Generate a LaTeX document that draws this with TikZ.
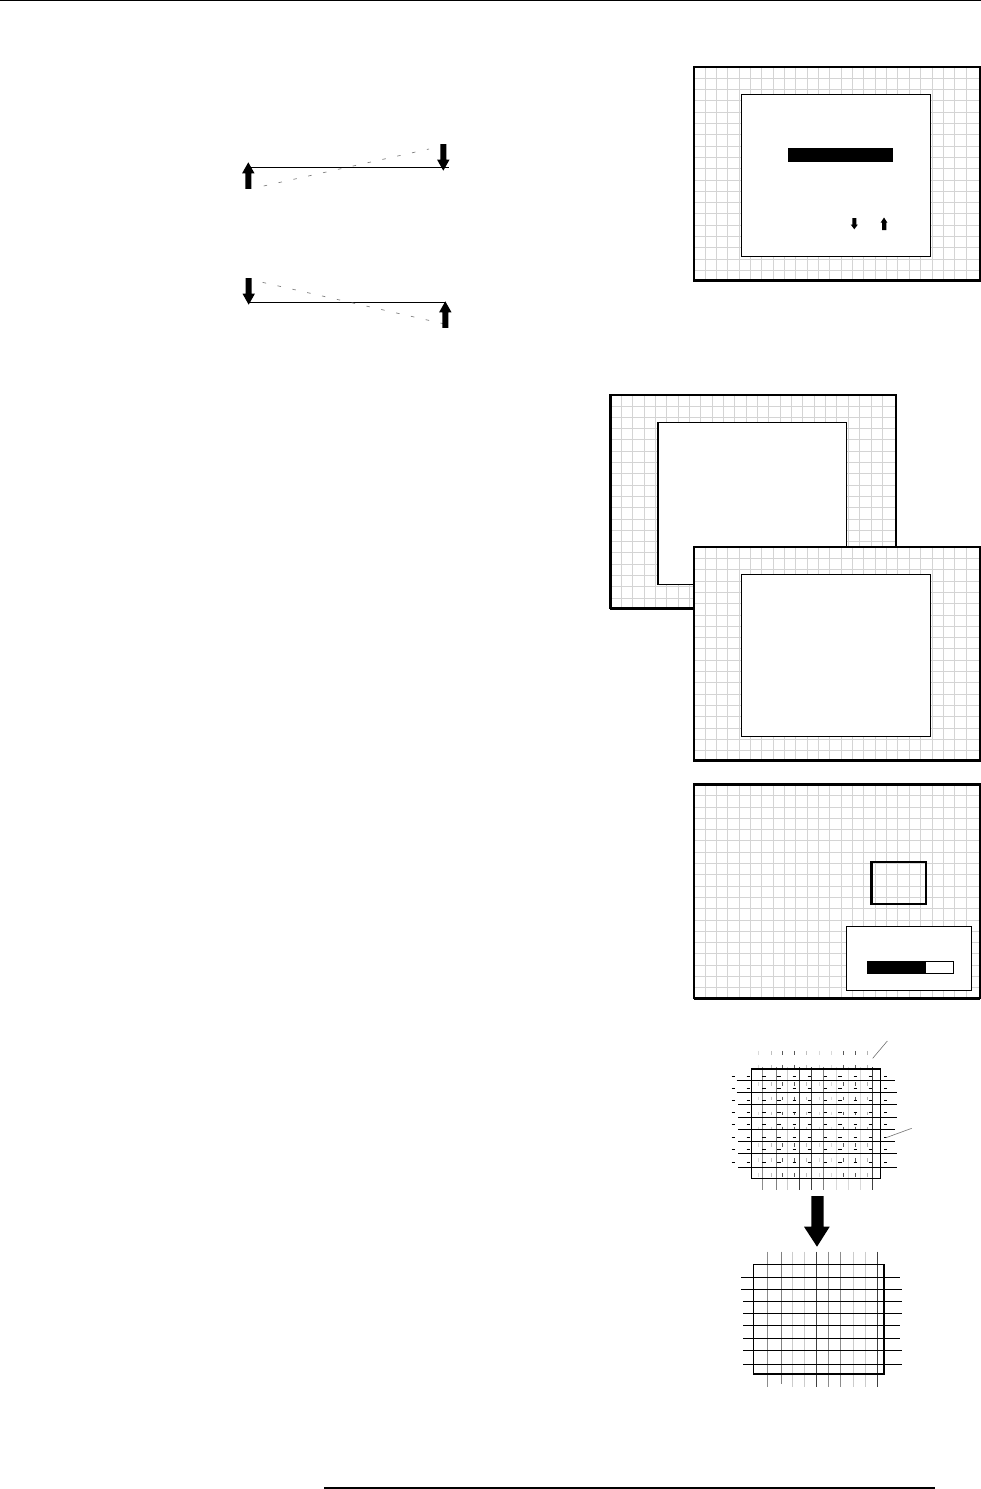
\documentclass[tikz,border=0pt]{standalone}
\usepackage{xcolor}
\definecolor{gridgray}{HTML}{D4D4D4}
\definecolor{dashgray}{HTML}{808080}
\definecolor{leadgray}{HTML}{707070}

% screen background: frame corner at #1,#2, with the fine grid inside
\newcommand{\screenframe}[2]{
  \fill[white] (#1,#2) rectangle ++(286,213.6);
  \foreach \k in {0,...,23} \draw[fineline] ({floor(#1+11+11.35*\k)+0.5},#2) -- ++(0,213.6);
  \foreach \k in {0,...,17} \draw[fineline] (#1,{floor(#2+11.3+11.3*\k)+0.5}) -- ++(286,0);
  \draw[screenedge] (#1,#2) rectangle ++(286,213.6);
  \draw[line width=3pt] (#1,#2+213.6) -- ++(286,0);
  \draw[line width=2.6pt] (#1,#2) -- ++(0,213.6);
}
% block arrows: tip at #1,#2
\newcommand{\arrowdown}[2]{\fill (#1,#2) -- ++(-6.2,-11) -- ++(3.2,0) -- ++(0,-15.5) -- ++(6,0) -- ++(0,15.5) -- ++(3.2,0) -- cycle;}
\newcommand{\arrowup}[2]{\fill (#1,#2) -- ++(-6.2,11) -- ++(3.2,0) -- ++(0,15.5) -- ++(6,0) -- ++(0,-15.5) -- ++(3.2,0) -- cycle;}

\begin{document}
\begin{tikzpicture}[
  x=1pt,
  y=-1pt,
  fineline/.style={draw=gridgray, line width=1pt},
  screenedge/.style={draw=black, line width=2.2pt},
  panel/.style={draw=black, fill=white, line width=1pt},
  boxedge/.style={draw=black, line width=1pt},
  gridrule/.style={draw=black, line width=1pt},
  skewdash/.style={draw=dashgray, line width=0.7pt, dash pattern=on 3.5pt off 11.7pt},
  tickmark/.style={draw=black, line width=1pt},
  leader/.style={draw=leadgray, line width=0.6pt}
]
  \useasboundingbox (0,0) rectangle (981,1489);

  % --- page rules ---
  \draw[line width=1pt] (0,0.5) -- (981,0.5);
  \draw[line width=1.6pt] (324,1487.7) -- (935,1487.7);

  % --- tilted line with arrows ---
  \draw[gridrule] (248,167.5) -- (449,167.5);
  \draw[skewdash] (263.7,186) -- (429,149);
  \arrowup{248.3}{162.3}
  \arrowdown{443.3}{170.7}

  \draw[gridrule] (248,302.5) -- (446,302.5);
  \draw[skewdash] (262.7,282.4) -- (443,323.6);
  \arrowdown{248.7}{304.7}
  \arrowup{445.3}{301.3}

  % --- first screen ---
  \screenframe{694}{67}
  \draw[panel] (741.5,94.5) rectangle (930.5,256.5);
  \fill (788,148) rectangle (893,162);
  \fill (854.3,229.3) -- (850.7,224.5) -- (852.3,224.5) -- (852.3,218) -- (856.3,218) -- (856.3,224.5) -- (857.9,224.5) -- cycle;
  \fill (884,217.5) -- (880.7,222.5) -- (882,222.5) -- (882,230) -- (886.3,230) -- (886.3,222.5) -- (887.3,222.5) -- cycle;

  % --- two stacked screens ---
  \screenframe{610.3}{394.7}
  \draw[panel] (658.5,422.5) rectangle (846.5,584.5);
  \draw[line width=1.7pt] (658.2,422) -- (658.2,585);
  \screenframe{694}{547.2}
  \draw[panel] (741.5,574.5) rectangle (930.5,736.5);

  % --- screen with dialog ---
  \screenframe{694}{784.4}
  \draw[boxedge, line width=1.3pt] (871,862) rectangle (926,904);
  \draw[line width=2.6pt] (871.5,862) -- (871.5,904);
  \draw[panel] (846.5,926.5) rectangle (971.5,990.5);
  \draw[draw=black, line width=1pt] (867.5,961.5) rectangle (953.5,973.5);
  \fill (867,961) rectangle (926,974);

  % --- pattern before adjustment ---
  \foreach \xpos/\tone in {762.5/45,776.5/50,787.5/20,799.5/75,811.5/75,823.5/50,836.5/15,848.5/15,860.5/15,872.5/75}
    \draw[draw=black!\tone, line width=1pt] (\xpos,1067) -- (\xpos,1190);
  \foreach \ypos in {1052.7,1066.7,1084,1098.3,1113.3,1128.3,1145,1160,1175}
    \foreach \xpos/\tone in {758.5/15,771.5/25,782.5/65,794.5/65,806.5/25,819.5/15,831.5/15,843.5/65,855.5/65,867.5/30}
      \draw[draw=black!\tone, line width=1pt] (\xpos,\ypos-1.8) -- (\xpos,\ypos+1.8);
  \foreach \ypos/\xa/\xb in {1080.5/736.7/895,1092.5/736.7/897,1104.5/738.3/897,1117.5/738.3/897,1129.5/738.3/895,1141.5/738.3/895,1153.5/738.3/897,1167.5/738.3/897}
    \draw[gridrule] (\xa,\ypos) -- (\xb,\ypos);
  \foreach \ypos in {1076.5,1088.5,1100.5,1112.5,1124.5,1137.5,1149.5,1162.5}
    \foreach \xpos in {733.3,748.3,764,779,794.3,809.3,825.3,840,855.3,870.3,885.7}
      \draw[tickmark] (\xpos-1.7,\ypos) -- (\xpos+1.7,\ypos);
  \draw[boxedge] (751.5,1069) rectangle (880.5,1178.5);
  \draw[line width=2pt] (751,1069) -- (881,1069);
  \draw[leader] (872.7,1058.3) -- (887.3,1041);
  \draw[leader] (886,1137.7) -- (911.7,1128.3);

  % --- big arrow ---
  \fill (817,1246.7) -- (804,1226.7) -- (811.3,1226.7) -- (811.3,1196) -- (823.7,1196) -- (823.7,1226.7) -- (829.7,1226.7) -- cycle;

  % --- pattern after adjustment ---
  \foreach \xpos/\tone/\yend in {767.5/45/1386.7,781.5/50/1384,792.5/20/1386.7,804.5/20/1386.7,816.5/75/1386.7,828.5/45/1386.7,840.5/45/1386.7,853.5/20/1386.7,865.5/20/1386.7,877.5/75/1386.7}
    \draw[draw=black!\tone, line width=1pt] (\xpos,1251.7) -- (\xpos,\yend);
  \foreach \ypos/\xa/\xb in {1277.5/741.3/900,1289.5/741.3/902,1301.5/743/902,1313.5/743/902,1325.5/743/900,1338.5/743/900,1350.5/743/902,1364.5/743/902}
    \draw[gridrule] (\xa,\ypos) -- (\xb,\ypos);
  \draw[boxedge] (753.5,1264.5) rectangle (883.5,1374);
  \draw[line width=2pt] (753,1374) -- (883.5,1374) -- (883.5,1264);

\end{tikzpicture}
\end{document}
